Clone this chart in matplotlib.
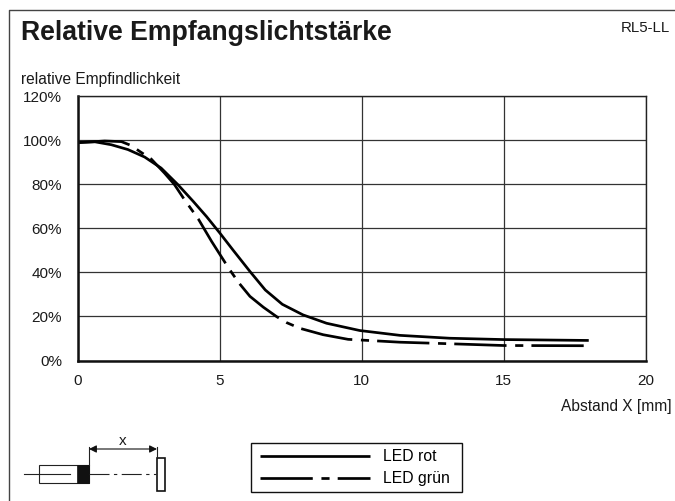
import matplotlib
matplotlib.use("Agg")
import matplotlib.pyplot as plt
from matplotlib.patches import Rectangle
from matplotlib.lines import Line2D

plt.rcParams["font.family"] = ["Liberation Sans", "DejaVu Sans"]

W, H = 675, 501

x_rot = [0, 0.6, 1.17, 1.76, 2.35, 2.93, 3.52, 4.06, 4.53, 5, 5.47, 6.06, 6.6, 7.2, 7.93, 8.76, 9.93, 11.35, 13.1, 15, 18]
y_rot = [99, 99.2, 97.9, 95.7, 92.3, 87.3, 79.8, 72.2, 65.3, 57.8, 50, 40.4, 32, 25.5, 20.7, 16.9, 13.6, 11.4, 10.1, 9.5, 9.1]
x_gruen = [0, 0.94, 1.53, 1.88, 2.17, 2.58, 3.05, 3.4, 3.73, 3.94, 4.24, 4.71, 5.18, 5.41, 5.67, 6.06, 6.53, 7, 7.35, 7.82,
           8.64, 9.52, 11.35, 13.1, 15, 18]
y_gruen = [98.8, 99.6, 99.3, 97.5, 94.9, 91.4, 85, 79.8, 73.4, 69.6, 64.2, 54, 44.5, 40, 35.2, 29.1, 24.2, 19.9, 17.2, 14.6,
           11.7, 9.6, 8.3, 7.6, 6.8, 6.7]
x_ticks = [0, 5, 10, 15, 20]
y_ticks = [0, 20, 40, 60, 80, 100, 120]
y_labels = ["0%", "20%", "40%", "60%", "80%", "100%", "120%"]

fig = plt.figure(figsize=(W / 100, H / 100), dpi=100)

# overlay in pixel coordinates for the frame and the sketch
overlay = fig.add_axes([0, 0, 1, 1], zorder=1)
overlay.set_xlim(0, W)
overlay.set_ylim(H, 0)
overlay.axis("off")

L, R, T, B = 78, 645.5, 96, 360.5
ax = fig.add_axes([L / W, 1 - B / H, (R - L) / W, (B - T) / H], zorder=2)
ax.patch.set_alpha(0)

ax.plot(x_rot, y_rot, color="black", lw=1.95, label="LED rot", solid_capstyle="butt")
ax.plot(x_gruen, y_gruen, color="black", lw=1.95, label="LED grün", linestyle=(0, (19.3, 3.2, 3, 3)),
        dash_capstyle="butt")

ax.set_xlim(0, 20)
ax.set_ylim(0, 120)
ax.set_xticks(x_ticks)
ax.set_yticks(y_ticks, y_labels)
ax.tick_params(length=0, labelsize=11, labelcolor="#1a1a1a")
ax.tick_params(axis="x", pad=10)
ax.tick_params(axis="y", pad=11.5)
ax.grid(True, color="#333333", lw=0.9)
ax.set_axisbelow(True)
for side in ["top", "right"]:
    ax.spines[side].set_linewidth(1.0)
    ax.spines[side].set_color("#222222")
for side in ["left", "bottom"]:
    ax.spines[side].set_linewidth(1.8)
    ax.spines[side].set_color("#111111")

# texts
overlay.text(21, 33, "Relative Empfangslichtstärke", fontsize=19.2, fontweight="bold", color="#1a1a1a",
             ha="left", va="center")
overlay.text(670, 28, "RL5-LL", fontsize=10.8, color="#1a1a1a", ha="right", va="center")
overlay.text(21, 79, "relative Empfindlichkeit", fontsize=11.2, color="#1a1a1a", ha="left", va="center")
overlay.text(672, 407, "Abstand X [mm]", fontsize=11.2, color="#1a1a1a", ha="right", va="center")

# outer frame
overlay.add_line(Line2D([8.5, 8.5, W], [H, 9.5, 9.5], color="#444444", lw=1.0))

# sketch
overlay.add_line(Line2D([24, 70], [474, 474], color="#222222", lw=0.8))
overlay.add_line(Line2D([89, 156], [474, 474], color="#222222", lw=0.8, linestyle=(0, (18, 4, 3, 4))))
overlay.add_patch(Rectangle((38.5, 465), 50, 18, fc="none", ec="#222222", lw=0.8))
overlay.add_patch(Rectangle((77, 465), 12, 18, fc="#111111", ec="#111111", lw=0.5))
overlay.add_patch(Rectangle((156.5, 457.5), 8, 33, fc="white", ec="#111111", lw=1.2))
overlay.add_line(Line2D([89, 89], [465, 447], color="#222222", lw=0.8))
overlay.add_line(Line2D([157, 157], [457, 447], color="#222222", lw=0.8))
overlay.annotate("", xy=(89, 449), xytext=(157, 449),
                 arrowprops=dict(arrowstyle="<|-|>", color="#111111", lw=0.8, shrinkA=0, shrinkB=0, mutation_scale=11))
overlay.text(123, 441, "x", fontsize=11, color="#1a1a1a", ha="center", va="center")

# legend, box drawn separately so its size can follow the picture
overlay.add_patch(Rectangle((251, 443), 211, 49, fc="white", ec="#111111", lw=1.0))
handles, labels = ax.get_legend_handles_labels()
fig.legend(handles, labels, loc="upper left", bbox_to_anchor=(260 / W, 1 - 449 / H), fontsize=11.3,
           frameon=False, borderaxespad=0, borderpad=0, handlelength=7.0,
           handletextpad=0.83, labelspacing=0.45)

fig.savefig("out.png", dpi=100)
